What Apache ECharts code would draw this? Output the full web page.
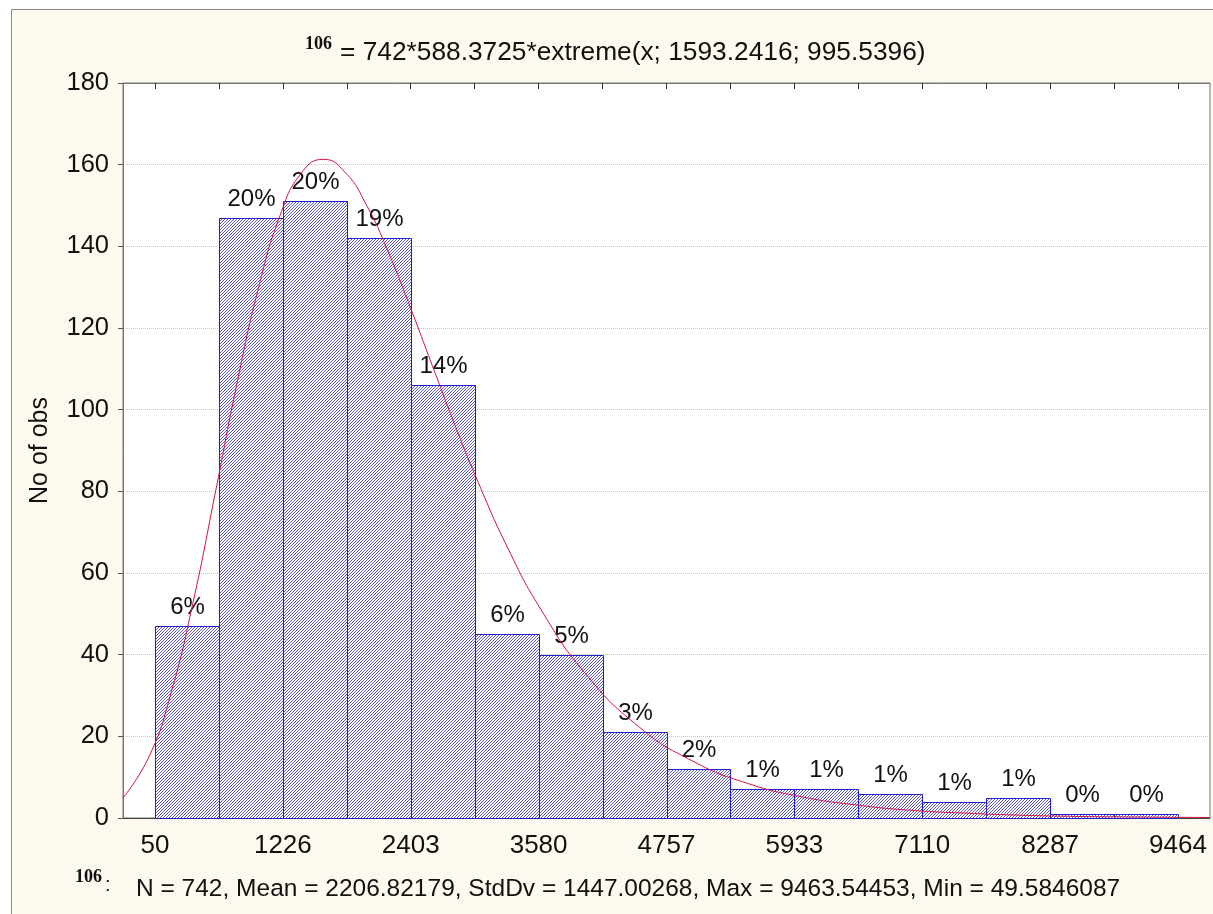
<!DOCTYPE html>
<html>
<head>
<meta charset="utf-8">
<script src="https://cdn.jsdelivr.net/npm/echarts@6/dist/echarts.min.js"></script>
<style>
  html, body { margin: 0; padding: 0; background: #fff; }
  #chart { width: 1213px; height: 914px; }
</style>
</head>
<body>
<div id="chart"></div>
<script>
// histogram bins (edges) and counts
var binEdges = [49.58, 637.96, 1226.33, 1814.70, 2403.07, 2991.44, 3579.82, 4168.19,
    4756.56, 5344.93, 5933.30, 6521.68, 7110.05, 7698.42, 8286.79, 8875.17, 9463.54];
var counts = [47, 147, 151, 142, 106, 45, 40, 21, 12, 7, 7, 6, 4, 5, 1, 1];
var total = 742;

// x axis labels
var tickValues = [49.58, 1226.33, 2403.07, 3579.82, 4756.56, 5933.30, 7110.05, 8286.79, 9463.54];
var tickLabels = ['50', '1226', '2403', '3580', '4757', '5933', '7110', '8287', '9464'];

// fitted curve
var fitX = [-245, 0, 200, 400, 600, 800, 1000, 1200, 1400, 1600, 1800, 2000, 2200, 2400,
    2600, 2800, 3000, 3300, 3600, 4000, 4500, 5000, 5500, 6000, 6500, 7000, 7500, 8000,
    8500, 9000, 9758];
var fitY = [4.9, 15.3, 30.9, 52.8, 79.0, 105.9, 129.6, 147.5, 158.1, 161.3, 158.1, 149.9,
    138.4, 125.0, 110.9, 96.9, 83.7, 65.9, 51.1, 35.7, 22.4, 13.9, 8.5, 5.2, 3.2, 1.9,
    1.2, 0.7, 0.4, 0.26, 0.12];

var chartDom = document.getElementById('chart');
var myChart = echarts.init(chartDom, null, { renderer: 'canvas' });

// hatch pattern for the bars
var hc = document.createElement('canvas');
hc.width = 3; hc.height = 3;
var hg = hc.getContext('2d');
hg.fillStyle = '#ffffff';
hg.fillRect(0, 0, 3, 3);
hg.fillStyle = '#5c5cc4';
hg.fillRect(2, 0, 1, 1);
hg.fillRect(1, 1, 1, 1);
hg.fillRect(0, 2, 1, 1);
var hatch = { image: hc, repeat: 'repeat' };

var barData = [];
for (var i = 0; i < counts.length; i++) {
    barData.push([binEdges[i], binEdges[i + 1], counts[i]]);
}
var fitData = fitX.map(function (x, i) { return [x, fitY[i]]; });

var xMin = binEdges[0] - (binEdges[1] - binEdges[0]) / 2;
var xMax = binEdges[binEdges.length - 1] + (binEdges[1] - binEdges[0]) / 2;
var FONT = '"Liberation Sans", Arial, sans-serif';
var SERIF = '"Liberation Serif", "Times New Roman", serif';

var option = {
    backgroundColor: '#fdf9ee',
    animation: false,
    grid: {
        left: 123, top: 83, right: 3, bottom: 96,
        show: true, backgroundColor: '#ffffff', borderColor: '#777', borderWidth: 1
    },
    graphic: [
        { type: 'rect', shape: { x: 0, y: 0, width: 1213, height: 9 }, style: { fill: '#fff' } },
        { type: 'rect', shape: { x: 0, y: 0, width: 11, height: 914 }, style: { fill: '#fff' } },
        { type: 'line', shape: { x1: 11.5, y1: 9.5, x2: 1213, y2: 9.5 }, style: { stroke: '#888', lineWidth: 1 } },
        { type: 'line', shape: { x1: 11.5, y1: 9.5, x2: 11.5, y2: 914 }, style: { stroke: '#888', lineWidth: 1 } },
        {
            type: 'text', x: 305, y: 44,
            style: { text: '106', font: 'bold 18px ' + SERIF, fill: '#111', verticalAlign: 'middle' }
        },
        {
            type: 'text', x: 340, y: 53,
            style: { text: '= 742*588.3725*extreme(x; 1593.2416; 995.5396)', font: '26.3px ' + FONT, fill: '#111', verticalAlign: 'middle' }
        },
        {
            type: 'text', x: 75, y: 877,
            style: { text: '106', font: 'bold 18px ' + SERIF, fill: '#111', verticalAlign: 'middle' }
        },
        {
            type: 'text', x: 105, y: 885,
            style: { text: ':', font: '20px ' + FONT, fill: '#111', verticalAlign: 'middle' }
        },
        {
            type: 'text', x: 136, y: 889,
            style: { text: 'N = 742, Mean = 2206.82179, StdDv = 1447.00268, Max = 9463.54453, Min = 49.5846087', font: '24.5px ' + FONT, fill: '#111', verticalAlign: 'middle' }
        }
    ],
    xAxis: [
        {
            type: 'value', position: 'bottom', min: xMin, max: xMax,
            axisLine: { show: true, onZero: false, lineStyle: { color: '#444', width: 1 } },
            axisTick: { show: false },
            splitLine: { show: false },
            axisLabel: {
                customValues: tickValues,
                margin: 15,
                fontSize: 26, fontFamily: FONT, color: '#111',
                formatter: function (v) {
                    var best = 0;
                    for (var k = 0; k < tickValues.length; k++) {
                        if (Math.abs(tickValues[k] - v) < Math.abs(tickValues[best] - v)) best = k;
                    }
                    return tickLabels[best];
                }
            }
        },
        {
            type: 'value', position: 'top', min: xMin, max: xMax,
            axisLine: { show: true, onZero: false, lineStyle: { color: '#777' } },
            axisTick: { show: true, inside: true, length: 6, customValues: binEdges, lineStyle: { color: '#333' } },
            axisLabel: { show: false },
            splitLine: { show: false }
        }
    ],
    yAxis: {
        type: 'value', min: 0, max: 180, interval: 20,
        name: 'No of obs', nameLocation: 'middle', nameRotate: 90, nameGap: 70,
        nameTextStyle: { fontSize: 25, fontFamily: FONT, color: '#111' },
        axisLine: { show: true, onZero: false, lineStyle: { color: '#777' } },
        axisTick: { show: true, inside: false, length: 5, lineStyle: { color: '#555' } },
        axisLabel: { fontSize: 25.5, fontFamily: FONT, color: '#111', margin: 14 },
        splitLine: { show: true, lineStyle: { color: '#c4c4c4', type: 'dotted' } }
    },
    series: [
        {
            name: 'counts',
            type: 'custom',
            xAxisIndex: 0,
            encode: { x: [0, 1], y: 2 },
            data: barData,
            renderItem: function (params, api) {
                var x0 = api.value(0), x1 = api.value(1), v = api.value(2);
                var p0 = api.coord([x0, v]);
                var p1 = api.coord([x1, 0]);
                var left = Math.round(p0[0]) + 0.5;
                var right = Math.round(p1[0]) + 0.5;
                var top = Math.round(p0[1]) + 0.5;
                var bottom = Math.round(p1[1]) + 0.5;
                var pct = Math.round(v / total * 100) + '%';
                return {
                    type: 'group',
                    children: [
                        {
                            type: 'rect',
                            shape: { x: left, y: top, width: right - left, height: bottom - top },
                            style: { fill: hatch, stroke: '#2020c8', lineWidth: 1 }
                        },
                        {
                            type: 'text',
                            style: {
                                text: pct, x: (left + right) / 2, y: top - 7,
                                align: 'center', verticalAlign: 'bottom',
                                font: '24px ' + FONT, fill: '#111'
                            }
                        }
                    ]
                };
            },
            z: 2
        },
        {
            name: 'fit',
            type: 'line',
            xAxisIndex: 0,
            data: fitData,
            showSymbol: false,
            smooth: true,
            clip: true,
            lineStyle: { color: '#d0143c', width: 1 },
            z: 3
        }
    ]
};

option && myChart.setOption(option);
</script>
</body>
</html>
